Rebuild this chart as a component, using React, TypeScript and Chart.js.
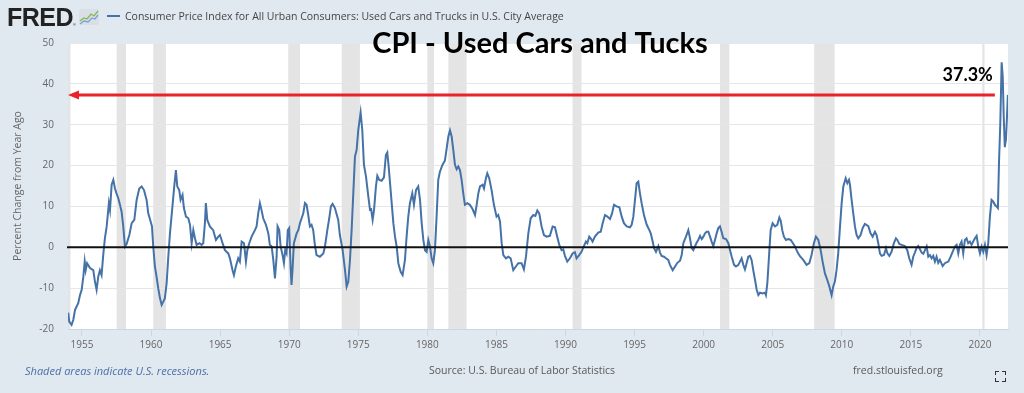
import React, { useEffect, useRef } from 'react';
import { Chart, registerables } from 'chart.js';

Chart.register(...registerables);

// ---------- data ----------
const obsYears = [
  1954.0, 1954.08, 1954.25, 1954.37, 1954.5, 1954.73, 1954.86, 1954.98, 1955.1, 1955.2, 1955.27, 1955.37, 1955.58, 1955.82, 1955.94,
  1956.06, 1956.18, 1956.3, 1956.42, 1956.54, 1956.66, 1956.79, 1956.95, 1957.03, 1957.15, 1957.27, 1957.39, 1957.5, 1957.63, 1957.75,
  1957.87, 1957.99, 1958.11, 1958.23, 1958.43, 1958.6, 1958.79, 1958.96, 1959.15, 1959.32, 1959.49, 1959.68, 1959.8, 1959.97, 1960.07,
  1960.16, 1960.28, 1960.4, 1960.52, 1960.65, 1960.77, 1960.89, 1961.0, 1961.13, 1961.25, 1961.37, 1961.56, 1961.68, 1961.8, 1961.9,
  1962.04, 1962.14, 1962.28, 1962.38, 1962.53, 1962.7, 1962.82, 1962.94, 1963.06, 1963.18, 1963.3, 1963.5, 1963.66, 1963.78, 1963.9,
  1963.97, 1964.07, 1964.26, 1964.5, 1964.7, 1964.87, 1964.99, 1965.18, 1965.35, 1965.59, 1965.71, 1965.9, 1966.0, 1966.14, 1966.31,
  1966.43, 1966.56, 1966.73, 1966.87, 1966.97, 1967.11, 1967.28, 1967.52, 1967.64, 1967.76, 1967.88, 1968.0, 1968.12, 1968.32, 1968.49,
  1968.6, 1968.73, 1968.85, 1968.97, 1969.09, 1969.16, 1969.28, 1969.38, 1969.52, 1969.62, 1969.71, 1969.81, 1969.9, 1970.0, 1970.1,
  1970.17, 1970.24, 1970.34, 1970.54, 1970.66, 1970.78, 1971.02, 1971.14, 1971.26, 1971.38, 1971.5, 1971.62, 1971.74, 1971.86, 1971.98,
  1972.22, 1972.47, 1972.59, 1972.76, 1972.9, 1973.02, 1973.14, 1973.31, 1973.55, 1973.67, 1973.87, 1974.04, 1974.16, 1974.28, 1974.4,
  1974.52, 1974.64, 1974.76, 1974.88, 1975.0, 1975.17, 1975.29, 1975.41, 1975.56, 1975.73, 1975.85, 1975.92, 1976.04, 1976.14, 1976.28,
  1976.38, 1976.52, 1976.69, 1976.86, 1977.0, 1977.1, 1977.2, 1977.3, 1977.42, 1977.54, 1977.66, 1977.78, 1977.9, 1978.07, 1978.21,
  1978.38, 1978.5, 1978.62, 1978.74, 1978.91, 1979.03, 1979.18, 1979.34, 1979.47, 1979.59, 1979.71, 1979.83, 1979.95, 1980.07, 1980.19,
  1980.31, 1980.43, 1980.55, 1980.67, 1980.79, 1980.91, 1981.1, 1981.27, 1981.4, 1981.52, 1981.64, 1981.76, 1981.88, 1982.0, 1982.12,
  1982.24, 1982.36, 1982.48, 1982.6, 1982.72, 1982.89, 1983.08, 1983.28, 1983.45, 1983.57, 1983.69, 1983.81, 1984.0, 1984.1, 1984.24,
  1984.34, 1984.48, 1984.65, 1984.82, 1985.01, 1985.13, 1985.26, 1985.38, 1985.5, 1985.69, 1985.86, 1986.03, 1986.22, 1986.41, 1986.58,
  1986.82, 1986.99, 1987.14, 1987.31, 1987.48, 1987.67, 1987.82, 1987.96, 1988.1, 1988.27, 1988.44, 1988.63, 1988.87, 1989.07, 1989.24,
  1989.4, 1989.55, 1989.72, 1989.84, 1989.96, 1990.13, 1990.32, 1990.51, 1990.68, 1990.8, 1990.99, 1991.16, 1991.29, 1991.48, 1991.58,
  1991.72, 1991.82, 1991.96, 1992.13, 1992.37, 1992.55, 1992.69, 1992.86, 1993.03, 1993.22, 1993.37, 1993.51, 1993.7, 1993.9, 1994.07,
  1994.23, 1994.43, 1994.67, 1994.79, 1994.91, 1995.03, 1995.15, 1995.27, 1995.39, 1995.51, 1995.68, 1995.88, 1996.07, 1996.17, 1996.31,
  1996.41, 1996.55, 1996.72, 1996.84, 1996.96, 1997.13, 1997.27, 1997.44, 1997.56, 1997.76, 1997.93, 1998.1, 1998.29, 1998.41, 1998.53,
  1998.72, 1998.89, 1999.01, 1999.13, 1999.25, 1999.37, 1999.49, 1999.61, 1999.74, 1999.86, 1999.98, 2000.1, 2000.22, 2000.34, 2000.46,
  2000.58, 2000.7, 2000.82, 2000.94, 2001.06, 2001.18, 2001.3, 2001.42, 2001.62, 2001.79, 2001.91, 2002.03, 2002.2, 2002.34, 2002.51,
  2002.63, 2002.75, 2002.87, 2002.99, 2003.11, 2003.23, 2003.35, 2003.47, 2003.59, 2003.72, 2003.84, 2003.96, 2004.08, 2004.27, 2004.44,
  2004.51, 2004.61, 2004.73, 2004.85, 2004.99, 2005.16, 2005.33, 2005.48, 2005.58, 2005.69, 2005.81, 2005.96, 2006.13, 2006.3, 2006.44,
  2006.61, 2006.78, 2006.97, 2007.21, 2007.45, 2007.65, 2007.81, 2007.98, 2008.13, 2008.3, 2008.47, 2008.61, 2008.78, 2008.95, 2009.1,
  2009.26, 2009.38, 2009.5, 2009.62, 2009.74, 2009.87, 2009.99, 2010.11, 2010.28, 2010.4, 2010.52, 2010.59, 2010.71, 2010.83, 2010.95,
  2011.07, 2011.19, 2011.36, 2011.51, 2011.67, 2011.92, 2012.08, 2012.23, 2012.4, 2012.52, 2012.64, 2012.76, 2012.88, 2013.05, 2013.2,
  2013.3, 2013.44, 2013.6, 2013.77, 2013.92, 2014.02, 2014.16, 2014.33, 2014.57, 2014.74, 2014.88, 2015.05, 2015.17, 2015.29, 2015.41,
  2015.53, 2015.66, 2015.78, 2015.9, 2016.02, 2016.14, 2016.26, 2016.38, 2016.5, 2016.62, 2016.74, 2016.86, 2016.98, 2017.1, 2017.3,
  2017.46, 2017.71, 2017.88, 2018.02, 2018.19, 2018.31, 2018.43, 2018.55, 2018.67, 2018.79, 2018.91, 2019.03, 2019.15, 2019.27, 2019.39,
  2019.51, 2019.64, 2019.76, 2019.88, 2020.0, 2020.12, 2020.24, 2020.36, 2020.48, 2020.6, 2020.72, 2020.84, 2020.96, 2021.08, 2021.2,
  2021.3, 2021.38, 2021.47, 2021.57, 2021.65, 2021.72, 2021.8, 2021.88, 2021.95, 2022.02,
];

const obsValues = [
  -16, -18.2, -19, -17.8, -15.3, -13.7, -11.7, -10.4, -7.2, -3.5, -5.6, -3.9, -5.1, -5.6, -8.4,
  -10.4, -7.2, -5.6, -6.8, -1.9, 2.2, 5.1, 10.8, 9.1, 15.3, 16.5, 14.4, 13.2, 12, 10.4,
  8.7, 5.1, 0.2, 0.8, 3, 5.9, 6.7, 11.6, 14.4, 14.9, 14, 11.6, 8.3, 6.3, 5.1,
  0.2, -4.7, -7.2, -10, -12.5, -14.1, -13.3, -12.5, -8.8, -2.3, 3.4, 10.4, 14.9, 18.9, 14.9,
  14, 11.6, 12.8, 9.6, 7.5, 7.1, 5.5, 1, 4.2, 2.2, 0.6, 1, 0.6, 1, 5.9,
  10.8, 6.7, 5.1, 4.2, 1.8, 2.6, 3, 1, -0.7, -1.5, -2.7, -5.6, -6.8, -4.7, -2.7,
  -3.5, 1.4, 1, -3.5, -0.7, 1, 2.6, 4.2, 5.1, 8.3, 10.8, 9.1, 7.1, 5.5, 3.4,
  0.6, 0.2, -3.1, -7.6, -2.3, 5.1, 4.2, 0.2, -1.9, -3.9, -0.7, -1.5, 4.2, 4.7, -4.7,
  -9.2, -5.6, 1, 3.4, 4.2, 5.9, 8.3, 10.8, 10.4, 7.9, 5.1, 5.5, 4.2, 0.6, -1.9,
  -2.3, -1.5, 0.2, 4.2, 7.1, 10, 10.6, 9.6, 6.7, 3, -0.7, -5.6, -9.6, -8.4, -3.1,
  4.2, 13.2, 22.2, 23.8, 28.7, 33, 28.7, 20.2, 17.3, 12.4, 9.1, 9.6, 6.7, 9.1, 14.9,
  17.5, 16.5, 16.3, 17.1, 22.6, 23.2, 19.8, 15.7, 10.8, 5.9, 2.6, 0.2, -3.9, -6, -6.8,
  -3.1, 2.6, 7.5, 10.8, 13.2, 10.4, 14, 14.9, 11.6, 5.9, 1.8, -0.7, -1.1, 1.8, 0.2,
  -2.7, -3.9, -0.7, 7.5, 16.5, 18.5, 20.2, 21.2, 24.2, 27.1, 28.6, 27.1, 23.8, 20.2, 19.1,
  19.8, 18.9, 16.5, 13.2, 10.4, 10.8, 10.4, 9.3, 7.9, 10.4, 13.2, 14.9, 15.3, 14.4, 16.9,
  18.1, 16.9, 14, 10.4, 7.5, 7.9, 6.3, 1, -1.9, -2.7, -2.3, -2.7, -5.6, -4.7, -3.9,
  -3.9, -5.4, -2.3, 3.4, 7.1, 7.9, 7.7, 9, 8.3, 5.1, 3, 2.6, 2.8, 5.1, 4.9,
  2.6, 0.6, -0.7, -0.5, -2.1, -3.5, -2.7, -1.5, -1.2, -2.7, -1.9, -1.1, 0, 1.4, 1,
  2.6, 2.2, 1.4, 2.6, 3.6, 3.8, 5.9, 7.9, 7.5, 6.9, 8.3, 10.4, 10, 9.8, 7.5,
  5.9, 5.1, 4.9, 5.5, 7.5, 11.6, 15.7, 16.1, 13.2, 10.8, 7.9, 5.5, 4.2, 3.4, 1.4,
  -0.2, -1.1, 0.3, -1.3, -2.1, -2.3, -2.7, -3.1, -4.3, -5.6, -4.7, -3.8, -3.3, -1.9, 1,
  2.6, 4.2, 2.2, -0.2, -0.7, 0.2, 1.1, 1.8, 2.8, 2, 2.6, 3.4, 3.8, 3.8, 2.6,
  1.4, 0.3, 1.8, 3.4, 4.7, 5.1, 3.8, 2.2, 2, 1, -0.7, -2.3, -4.3, -4.7, -4.3,
  -3.5, -2.7, -4.3, -5.4, -3.9, -2.3, -2.1, -3.1, -5.6, -8, -10.4, -11.7, -11.1, -11.3, -11.1,
  -11.7, -8.8, -2.3, 4.2, 5.9, 5.1, 5.5, 7.3, 6.5, 4.2, 2.6, 1.8, 2, 1.8, 1.1,
  0.2, -1.1, -2.2, -3.1, -4.3, -3.9, -1.9, 1, 2.6, 1.8, -0.7, -3.5, -6.4, -8, -9.6,
  -11.7, -9.6, -8.4, -5.6, -1.5, 5.1, 10.8, 14.9, 16.9, 15.7, 16.5, 15.3, 11.6, 8.3, 5.1,
  3, 2.2, 3, 4.7, 5.7, 5.2, 3.4, 2.6, 3.8, 3, 1, -1.5, -2.1, -1.9, -0.2,
  -1.5, -2.1, -1.1, 1, 2.2, 1.8, 0.8, 0.6, 0.3, -0.7, -2.7, -4.3, -2.3, -1.3, -0.2,
  0.3, -0.5, -1.3, -1.6, -0.7, 0.2, -2.3, -1.9, -2.7, -2.1, -3.5, -2.3, -3.8, -3.1, -4.6,
  -3.9, -3.5, -2.3, -1.1, 0.2, 0.6, -1.5, 0.6, 1.4, -1.5, 1.8, 2.2, 1, 1.4, 0.6,
  1.4, 2.2, 2.8, 0.2, -1.5, 0.2, -1.1, 0.6, -1.9, 1, 7.5, 11.6, 11.2, 10.4, 10,
  9.6, 21, 30, 45.3, 41.7, 32, 24.5, 26.4, 31.4, 37.3,
];

const xTickYears = [1955, 1960, 1965, 1970, 1975, 1980, 1985, 1990, 1995, 2000, 2005, 2010, 2015, 2020];
const yTickValues = [-20, -10, 0, 10, 20, 30, 40, 50];

const recessionStarts = [1953.58, 1957.51, 1960.16, 1969.93, 1973.8, 1980.0, 1981.52, 1990.51, 2001.18, 2008.0, 2020.17];
const recessionEnds = [1954.17, 1958.19, 1961.08, 1970.78, 1975.12, 1980.48, 1982.84, 1991.16, 2001.86, 2009.48, 2020.33];

const annotationValue = 37.3;
const annotationLabel = '37.3%';
const arrowEndYear = 2021.08;

const seriesTitle = 'Consumer Price Index for All Urban Consumers: Used Cars and Trucks in U.S. City Average';
const overlayTitle = 'CPI - Used Cars and Tucks';
const yAxisTitle = 'Percent Change from Year Ago';
const recessionNote = 'Shaded areas indicate U.S. recessions.';
const sourceNote = 'Source: U.S. Bureau of Labor Statistics';
const siteNote = 'fred.stlouisfed.org';

const SERIES_COLOR = '#4572a7';
const RED = '#e8232b';

const bgPlugin = {
  id: 'plotBackground',
  beforeDraw(chart: any) {
    const { ctx, chartArea, scales } = chart;
    const { left, top, right, bottom } = chartArea;
    ctx.save();
    ctx.fillStyle = '#ffffff';
    ctx.fillRect(left, top, right - left, bottom - top);
    ctx.fillStyle = '#e4e4e4';
    recessionStarts.forEach((s, i) => {
      const x0 = Math.max(left, scales.x.getPixelForValue(s));
      const x1 = Math.min(right, scales.x.getPixelForValue(recessionEnds[i]));
      if (x1 > x0) ctx.fillRect(x0, top, x1 - x0, bottom - top);
    });
    ctx.restore();
  },
};

const overlayPlugin = {
  id: 'overlay',
  afterDatasetsDraw(chart: any) {
    const { ctx, chartArea, scales } = chart;
    const { left, right } = chartArea;
    ctx.save();
    // zero line
    const y0 = scales.y.getPixelForValue(0);
    ctx.strokeStyle = '#111';
    ctx.lineWidth = 2;
    ctx.beginPath();
    ctx.moveTo(left - 1, y0);
    ctx.lineTo(right, y0);
    ctx.stroke();

    // red arrow
    const ya = scales.y.getPixelForValue(annotationValue);
    const xe = scales.x.getPixelForValue(arrowEndYear);
    ctx.strokeStyle = RED;
    ctx.fillStyle = RED;
    ctx.lineWidth = 3;
    ctx.beginPath();
    ctx.moveTo(left + 8, ya);
    ctx.lineTo(xe, ya);
    ctx.stroke();
    ctx.beginPath();
    ctx.moveTo(left, ya);
    ctx.lineTo(left + 11, ya - 4.5);
    ctx.lineTo(left + 11, ya + 4.5);
    ctx.closePath();
    ctx.fill();

    // label
    ctx.fillStyle = '#000';
    ctx.font = '700 18px Lato';
    ctx.textAlign = 'right';
    ctx.textBaseline = 'alphabetic';
    ctx.fillText(annotationLabel, xe - 2, ya - 14);

    // overlay title
    ctx.font = '700 29px Lato';
    ctx.textAlign = 'center';
    ctx.fillText(overlayTitle, 540, 52.7);
    ctx.restore();
  },
};

export default function App() {
  const canvasRef = useRef<HTMLCanvasElement | null>(null);

  useEffect(() => {
    if (!canvasRef.current) return;
    const points = obsYears.map((x, i) => ({ x, y: obsValues[i] }));
    const chart = new Chart(canvasRef.current, {
      type: 'line',
      data: {
        datasets: [
          {
            label: seriesTitle,
            data: points,
            borderColor: SERIES_COLOR,
            borderWidth: 2,
            pointRadius: 0,
            tension: 0,
            fill: false,
          },
        ],
      },
      options: {
        animation: false,
        responsive: false,
        layout: { padding: { left: 0, top: 43, right: 16, bottom: 0 } },
        plugins: {
          legend: { display: false },
          tooltip: { enabled: false },
          title: { display: false },
        },
        scales: {
          x: {
            type: 'linear',
            min: 1953.99,
            max: 2022.03,
            afterBuildTicks: (s: any) => {
              s.ticks = xTickYears.map((v) => ({ value: v }));
            },
            afterFit: (s: any) => {
              s.height = 64;
            },
            grid: { drawOnChartArea: false, drawTicks: true, tickLength: 7, color: '#ccd6eb' },
            border: { display: true, color: '#ccd6eb', width: 1 },
            ticks: {
              padding: 3,
              color: '#666',
              font: { family: 'Open Sans', size: 10 },
              maxRotation: 0,
              autoSkip: false,
              callback: (v: any) => String(v),
            },
          },
          y: {
            min: -20,
            max: 50,
            afterBuildTicks: (s: any) => {
              s.ticks = yTickValues.map((v) => ({ value: v }));
            },
            afterFit: (s: any) => {
              s.width = 68;
            },
            grid: {
              drawTicks: false,
              lineWidth: 1,
              color: (c: any) => (c.tick && c.tick.value === 0 ? 'rgba(0,0,0,0)' : '#e6e6e6'),
            },
            border: { display: false },
            ticks: {
              padding: 14,
              color: '#666',
              font: { family: 'Open Sans', size: 10 },
              callback: (v: any) => String(v),
            },
            title: {
              display: true,
              text: yAxisTitle,
              color: '#666',
              font: { family: 'Open Sans', size: 10.5 },
              padding: { top: 11.5, bottom: 0 },
            },
          },
        },
      },
      plugins: [bgPlugin, overlayPlugin],
    } as any);
    return () => chart.destroy();
  }, []);

  const textBase: React.CSSProperties = {
    position: 'absolute',
    fontFamily: 'Open Sans',
    fontSize: 10.5,
    lineHeight: '11px',
    whiteSpace: 'nowrap',
  };

  return (
    <div
      style={{
        position: 'fixed',
        left: 0,
        top: 0,
        width: 1024,
        height: 393,
        background: '#e1e9f0',
        overflow: 'hidden',
      }}
    >
      <canvas ref={canvasRef} width={1024} height={393} style={{ position: 'absolute', left: 0, top: 0 }} />
      {/* header */}
      <div
        style={{
          position: 'absolute',
          left: 7,
          top: 5,
          fontFamily: 'Liberation Sans',
          fontWeight: 700,
          fontSize: 25,
          lineHeight: '25px',
          color: '#222',
          letterSpacing: -0.5,
        }}
      >
        FRED
      </div>
      <div style={{ position: 'absolute', left: 73, top: 22, fontFamily: 'Liberation Sans', fontSize: 4, color: '#222' }}>®</div>
      <svg width="20" height="16" style={{ position: 'absolute', left: 79, top: 9 }}>
        <rect x="0" y="0" width="20" height="16" rx="2" fill="#d9dfe4" />
        <polyline points="1,12 5,9 8,10 12,5 15,7 19,2" fill="none" stroke="#86b75a" strokeWidth="1.3" />
        <polyline points="1,15 5,12 9,13 13,9 16,10 19,6" fill="none" stroke="#7aa3d4" strokeWidth="1.3" />
      </svg>
      <div style={{ position: 'absolute', left: 107, top: 15, width: 13, height: 2, background: SERIES_COLOR }} />
      <div style={{ ...textBase, left: 125, top: 10.5, color: '#444' }}>{seriesTitle}</div>
      {/* footer */}
      <div style={{ ...textBase, fontSize: 11, left: 25, top: 364.5, color: '#4c70a6', fontStyle: 'italic' }}>{recessionNote}</div>
      <div style={{ ...textBase, left: 429, top: 364.5, color: '#595959' }}>{sourceNote}</div>
      <div style={{ ...textBase, left: 853, top: 364.5, color: '#595959' }}>{siteNote}</div>
      <svg width="11" height="11" style={{ position: 'absolute', left: 995, top: 371 }}>
        <path d="M0,4 V0 H4 M7,0 H11 V4 M11,7 V11 H7 M4,11 H0 V7" fill="none" stroke="#333" strokeWidth="2" />
      </svg>
    </div>
  );
}
